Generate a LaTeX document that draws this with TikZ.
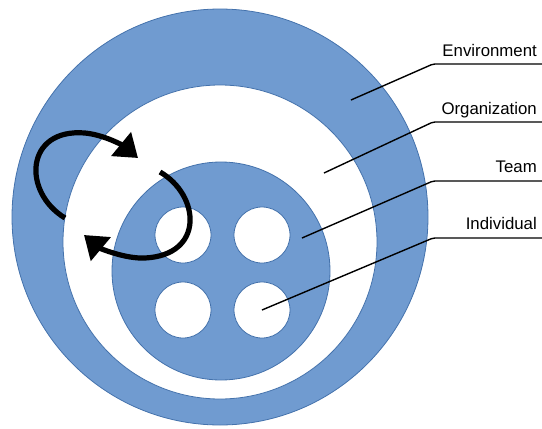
\documentclass[tikz,border=0pt]{standalone}
\usepackage{fontspec}
\setmainfont{Liberation Sans}
\usetikzlibrary{arrows.meta}
\definecolor{ringblue}{RGB}{112,155,208}
\definecolor{ringedge}{RGB}{68,114,172}
\begin{document}
\begin{tikzpicture}[x=1pt,y=-1pt,
  ring/.style={circle,inner sep=0pt,draw=ringedge,line width=0.8pt},
  bluering/.style={ring,fill=ringblue},
  whitering/.style={ring,fill=white},
  leader/.style={line width=1.4pt,black,rounded corners=2pt},
  lbl/.style={anchor=base east,inner sep=0pt,font=\fontsize{16.8}{19}\selectfont},
  cycle arrow/.style={line width=5.2pt,black,-{Triangle[length=22pt,width=30pt]}}]
\useasboundingbox (0,0) rectangle (542,429);
% rings
\node[bluering,minimum size=416pt] (envc) at (220,217) {};
\node[whitering,minimum size=314pt] (orgc) at (220,242) {};
\node[bluering,minimum size=218pt] (teamc) at (221,271) {};
% individuals
\node[whitering,minimum size=56pt] (ind1) at (183,235) {};
\node[whitering,minimum size=56pt] (ind2) at (262,235) {};
\node[whitering,minimum size=56pt] (ind3) at (183,310) {};
\node[whitering,minimum size=56pt] (ind4) at (262,310) {};
% arrows
\coordinate (a1s) at (65,218);
\coordinate (a1m) at (85,133);
\coordinate (a1e) at (138,158);
\draw[cycle arrow] (a1s) .. controls (22,192) and (25,128) .. (a1m)
  .. controls (105,135) and (123.5,146) .. (a1e);
\coordinate (a2s) at (160,172);
\coordinate (a2m) at (145,258);
\coordinate (a2e) at (84,235);
\draw[cycle arrow] (a2s) .. controls (200,195) and (205,255) .. (a2m)
  .. controls (125,259) and (99.5,248) .. (a2e);
% labels
\node[lbl] (envl) at (537,56) {Environment};
\node[lbl] (orgl) at (537,114) {Organization};
\node[lbl] (teaml) at (537,172) {Team};
\node[lbl] (indl) at (537,229) {Individual};
% leader lines
\coordinate (p1) at (351,100);
\coordinate (k1) at (433,64);
\coordinate (e1) at (542,64);
\coordinate (p2) at (324,173);
\coordinate (k2) at (433,122);
\coordinate (e2) at (542,122);
\coordinate (p3) at (302,238);
\coordinate (k3) at (433,181);
\coordinate (e3) at (542,181);
\coordinate (k4) at (433,238);
\coordinate (e4) at (542,238);
\draw[leader] (p1) -- (k1) -- (e1);
\draw[leader] (p2) -- (k2) -- (e2);
\draw[leader] (p3) -- (k3) -- (e3);
\draw[leader] (ind4.center) -- (k4) -- (e4);
\end{tikzpicture}
\end{document}
